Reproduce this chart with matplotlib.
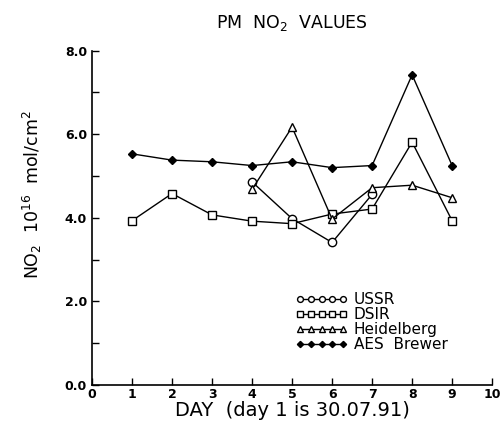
import matplotlib.pyplot as plt

days = [1, 2, 3, 4, 5, 6, 7, 8, 9]
ussr_days = [4, 5, 6, 7]
heid_days = [4, 5, 6, 7, 8, 9]

ussr = [4.86, 3.98, 3.41, 4.56]
dsir = [3.93, 4.58, 4.07, 3.92, 3.86, 4.09, 4.21, 5.81, 3.93]
heidelberg = [4.68, 6.17, 3.97, 4.72, 4.78, 4.48]
aes_brewer = [5.53, 5.38, 5.34, 5.25, 5.34, 5.20, 5.25, 7.42, 5.25]

fig = plt.figure(figsize=(5.04, 4.25), dpi=100)
ax = fig.add_axes([0.1825, 0.094, 0.794, 0.787])

kw = dict(color='black', lw=1.0, mfc='white', mec='black', mew=1.0)
ax.plot(ussr_days, ussr, marker='o', ms=6, label='USSR', **kw)
ax.plot(days, dsir, marker='s', ms=5.5, label='DSIR', **kw)
ax.plot(heid_days, heidelberg, marker='^', ms=6, label='Heidelberg', **kw)
ax.plot(days, aes_brewer, color='black', lw=1.0, marker='D', ms=4.5,
        mfc='black', mec='black', label='AES  Brewer')

ax.set_xlim(0, 10)
ax.set_ylim(0, 8)
ax.set_xticks(range(0, 11))
ax.set_xticklabels([str(i) for i in range(0, 11)], fontweight='bold')
ax.set_yticks([0, 2, 4, 6, 8])
ax.set_yticklabels(['0.0', '2.0', '4.0', '6.0', '8.0'], fontweight='bold')
ax.set_yticks([1, 3, 5, 7], minor=True)
ax.tick_params(direction='in', length=5, labelsize=9, width=1)
ax.tick_params(which='minor', direction='in', length=5, width=1)
ax.tick_params(axis='x', pad=2)
for s in ['top', 'right']:
    ax.spines[s].set_visible(False)
for s in ['left', 'bottom']:
    ax.spines[s].set_linewidth(1.2)

ax.set_title('PM  NO$_2$  VALUES', fontsize=12.5, pad=16)
ax.set_xlabel('DAY  (day 1 is 30.07.91)', fontsize=14, labelpad=0)
ax.set_ylabel('NO$_2$  10$^{16}$  mol/cm$^2$', fontsize=12.5)
ax.yaxis.set_label_coords(-0.12, 0.57)

ax.legend(loc='upper left', bbox_to_anchor=(0.49, 0.3), frameon=False,
          numpoints=5, handlelength=3.4, handletextpad=0.4, labelspacing=0.0,
          fontsize=11, markerscale=0.7, borderpad=0)

fig.savefig('out.png', dpi=100)
